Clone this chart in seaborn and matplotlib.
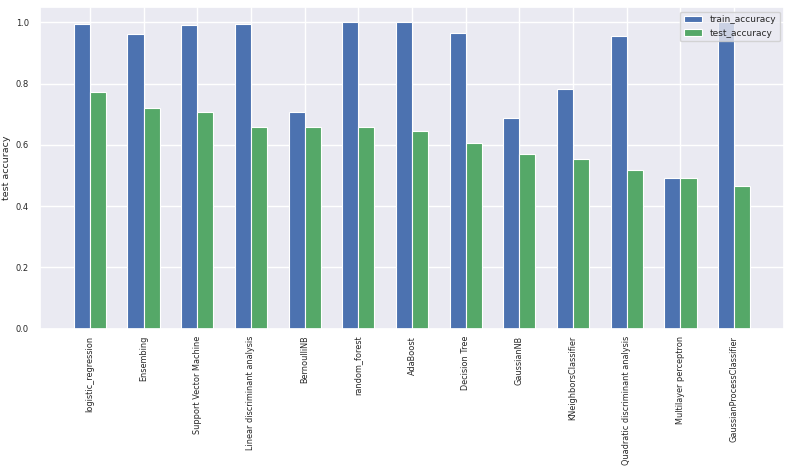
import matplotlib
matplotlib.use("Agg")
import matplotlib.pyplot as plt
import seaborn as sns
import pandas as pd

models = ["logistic_regression", "Ensembing", "Support Vector Machine",
          "Linear discriminant analysis", "BernoulliNB", "random_forest",
          "AdaBoost", "Decision Tree", "GaussianNB", "KNeighborsClassifier",
          "Quadratic discriminant analysis", "Multilayer perceptron",
          "GaussianProcessClassifier"]
train_accuracy = [0.995, 0.962, 0.992, 0.995, 0.707, 1.0, 1.0, 0.964, 0.687,
                  0.782, 0.954, 0.492, 1.0]
test_accuracy = [0.773, 0.720, 0.707, 0.657, 0.657, 0.657, 0.645, 0.606, 0.570,
                 0.555, 0.517, 0.492, 0.466]
series = ["train_accuracy", "test_accuracy"]
colors = ["#4C72B0", "#55A868"]

df = pd.DataFrame({"model": models, "train_accuracy": train_accuracy,
                   "test_accuracy": test_accuracy})
long = df.melt(id_vars="model", value_vars=series, var_name="metric",
               value_name="acc")

sns.set_theme(style="darkgrid")
plt.rcParams["font.family"] = ["DejaVu Sans"]
fs = 5.9
plt.rcParams.update({"xtick.labelsize": fs, "ytick.labelsize": 6.0,
                     "axes.labelsize": 6.8, "legend.fontsize": 6.5,
                     "patch.force_edgecolor": True, "patch.edgecolor": "white"})

fig, ax = plt.subplots(figsize=(7.93, 4.71), dpi=100)
fig.subplots_adjust(left=0.0504, right=0.9887, top=0.985, bottom=0.302)

sns.barplot(data=long, x="model", y="acc", hue="metric", order=models,
            hue_order=series, palette=colors, width=0.6, saturation=1,
            edgecolor="white", linewidth=0.8, ax=ax)

ax.set_xlim(-0.93, 12.93)
ax.set_ylim(0, 1.05)
ax.set_yticks([0.0, 0.2, 0.4, 0.6, 0.8, 1.0])
ax.xaxis.grid(True)
ax.set_axisbelow(True)
ax.set_xlabel("")
ax.set_ylabel("test accuracy", labelpad=3)
ax.tick_params(axis="x", rotation=90, pad=-1)
ax.tick_params(axis="y", pad=2)
handles, labels = ax.get_legend_handles_labels()
ax.legend(handles, labels, loc="upper right", title=None, frameon=True)

fig.savefig("out.png", dpi=100)
